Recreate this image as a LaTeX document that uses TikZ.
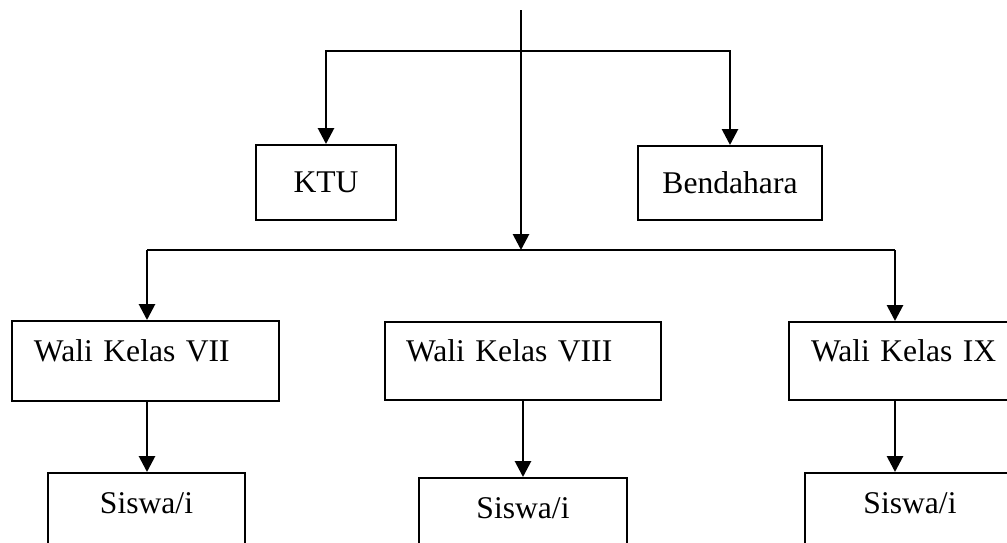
\documentclass[tikz,border=0pt]{standalone}
\usepackage{fontspec}
\setmainfont{Liberation Serif}
\usetikzlibrary{arrows.meta}
\begin{document}
\begin{tikzpicture}[x=1pt,y=-1pt,
  font=\fontsize{31.6}{38}\selectfont,
  box/.style={draw, line width=2pt, rectangle, inner sep=0pt, anchor=north west},
  wbox/.style={box, align=left, inner xsep=22pt},
  sbox/.style={box, text height=40pt, text depth=60pt},
  arr/.style={line width=2.8pt, -{Triangle[width=16pt,length=16pt]}},
  ln/.style={line width=2.8pt}]
\useasboundingbox (0,0) rectangle (1007,542);
\clip (0,0) rectangle (1007,542);
% boxes
\node[box, minimum width=140pt, minimum height=75pt] (ktu) at (255,144) {KTU};
\node[box, minimum width=184pt, minimum height=74pt] (bend) at (637,145) {Bendahara};
\node[wbox, text height=40pt, text depth=40pt, text width=223pt] (w7) at (11,320) {Wali Kelas VII};
\node[wbox, inner xsep=21pt, text height=39pt, text depth=39pt, text width=234pt] (w8) at (384,321) {Wali Kelas VIII};
\node[wbox, text height=39pt, text depth=39pt, text width=220pt] (w9) at (788,321) {Wali Kelas IX};
\node[sbox, minimum width=197pt] (s7) at (47,472) {Siswa/i};
\node[sbox, minimum width=208pt] (s8) at (418,477) {Siswa/i};
\node[sbox, minimum width=210pt] (s9) at (804,472) {Siswa/i};
% connectors
\coordinate (top) at (521,10);
\coordinate (j1) at (521,51);
\coordinate (j2) at (521,250);
\coordinate (b7) at (147,250);
\coordinate (b9) at (895,250);
\draw[arr] (top) -- (j2);
\draw[arr] (j1) -| (ktu.north);
\draw[arr] (j1) -| (bend.north);
\draw[ln] (b7) -- (b9);
\draw[arr] (b7) -- (b7 |- w7.north);
\draw[arr] (b9) -- (b9 |- w9.north);
\draw[arr] (b7 |- w7.south) -- (b7 |- s7.north);
\draw[arr] (w8.south) -- (s8.north);
\draw[arr] (b9 |- w9.south) -- (b9 |- s9.north);
\end{tikzpicture}
\end{document}
